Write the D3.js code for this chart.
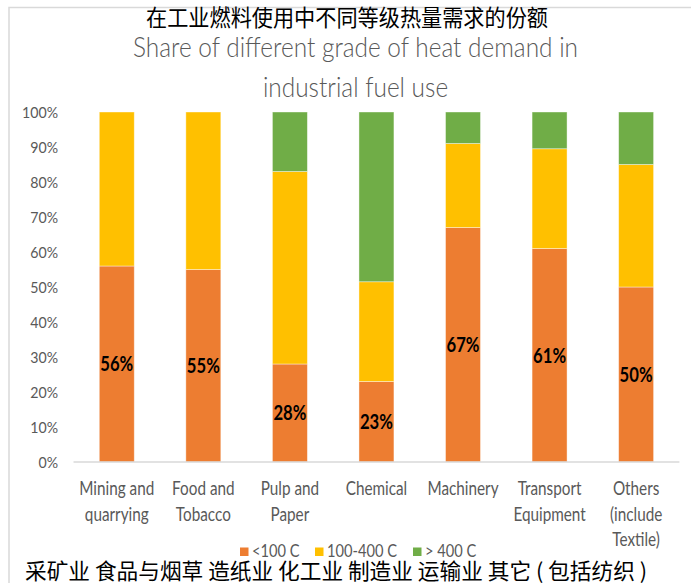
<!DOCTYPE html>
<html>
<head>
<meta charset="utf-8">
<script src="https://cdn.jsdelivr.net/npm/d3@7"></script>
<style>
  html, body { margin: 0; padding: 0; background: #fff; }
  svg { display: block; }
  .lat { font-family: Lato, "Open Sans", "DejaVu Sans", sans-serif; }
  .cjk { font-family: "Noto Sans CJK SC", sans-serif; }
</style>
</head>
<body>
<svg id="chart" width="691" height="583"></svg>
<script>
// Industry sectors (multi-line English labels)
const categories = [
  ["Mining and", "quarrying"],
  ["Food and", "Tobacco"],
  ["Pulp and", "Paper"],
  ["Chemical"],
  ["Machinery"],
  ["Transport", "Equipment"],
  ["Others", "(include", "Textile)"]
];
const seriesNames = ["<100 C", "100-400 C", "> 400 C"];
// Share of heat demand (%) per temperature grade
const below100 = [56, 55, 28, 23, 67, 61, 50];
const from100to400 = [44, 45, 55, 28.5, 24, 28.5, 35];
const above400 = [0, 0, 17, 48.5, 9, 10.5, 15];
const yTicks = [0, 10, 20, 30, 40, 50, 60, 70, 80, 90, 100];
const titleZh = "在工业燃料使用中不同等级热量需求的份额";
const titleEn = ["Share of different grade of heat demand in", "industrial fuel use"];
const footerZh = "采矿业 食品与烟草 造纸业 化工业 制造业 运输业 其它 ( 包括纺织 )";

const colors = ["#ED7D31", "#FFC000", "#70AD47"];
const textGray = "#595959";

const svg = d3.select("#chart");

// Narrow a group of texts so that one reference string spans `target` px.
function condense(sel, refText, target) {
  const nodes = sel.nodes();
  const ref = nodes.find(n => n.textContent === refText) || nodes[0];
  const k = target / ref.getComputedTextLength();
  nodes.forEach(n => {
    n.setAttribute("textLength", n.getComputedTextLength() * k);
    n.setAttribute("lengthAdjust", "spacingAndGlyphs");
  });
}

// outer frame (top and left edges)
svg.append("path")
  .attr("d", "M9,583V7.5H691")
  .attr("fill", "none").attr("stroke", "#d9d9d9").attr("stroke-width", 1.5);

const plot = { left: 73.5, right: 679.4, top: 112, bottom: 462 };

const x = d3.scaleBand()
  .domain(d3.range(categories.length))
  .range([plot.left, plot.right])
  .paddingInner(0.596)
  .paddingOuter(0.298);

const y = d3.scaleLinear().domain([0, 100]).range([plot.bottom, plot.top]);

// stacked layout
const rows = categories.map((c, i) => ({ i, a: below100[i], b: from100to400[i], c: above400[i] }));
const layers = d3.stack().keys(["a", "b", "c"])(rows);

svg.append("g").selectAll("g")
  .data(layers)
  .join("g")
  .attr("fill", (d, k) => colors[k])
  .selectAll("rect")
  .data(d => d.filter(s => s[1] - s[0] > 0))
  .join("rect")
  .attr("x", d => x(d.data.i))
  .attr("width", x.bandwidth())
  .attr("y", d => y(d[1]))
  .attr("height", d => y(d[0]) - y(d[1]))
  .attr("stroke", "#fff").attr("stroke-opacity", 0.5).attr("stroke-width", 0.8);

// baseline
svg.append("line")
  .attr("x1", plot.left).attr("x2", plot.right)
  .attr("y1", y(0)).attr("y2", y(0))
  .attr("stroke", "#d9d9d9").attr("stroke-width", 1.5);

// y axis labels
const yAxis = d3.axisLeft(y).tickValues(yTicks).tickFormat(d => d + "%").tickSize(0).tickPadding(0);
const gy = svg.append("g").attr("transform", "translate(58,0)").call(yAxis);
gy.select(".domain").remove();
gy.selectAll("text").attr("class", "lat").attr("font-size", 16).attr("fill", textGray).attr("font-family", null);
condense(gy.selectAll("text"), "100%", 36);

// category labels, one text per line
const gx = svg.append("g");
categories.forEach((lines, i) => {
  lines.forEach((ln, j) => {
    gx.append("text").attr("class", "lat")
      .attr("x", x(i) + x.bandwidth() / 2).attr("y", 495 + j * 25.5)
      .attr("text-anchor", "middle").attr("font-size", 18.5).attr("fill", textGray)
      .text(ln);
  });
});
condense(gx.selectAll("text"), "Mining and", 75);

// value labels on the <100 C segment
const vl = svg.append("g").selectAll("text")
  .data(rows)
  .join("text")
  .attr("class", "lat")
  .attr("x", d => x(d.i) + x.bandwidth() / 2)
  .attr("y", d => y(d.a / 2))
  .attr("dy", "0.36em")
  .attr("text-anchor", "middle")
  .attr("font-size", 20.5).attr("font-weight", "bold").attr("fill", "#000")
  .text(d => d.a + "%");
condense(vl, "56%", 33);

// English title
const te = svg.append("g").selectAll("text").data(titleEn).join("text")
  .attr("class", "lat")
  .attr("x", 355.5).attr("y", (d, j) => 57 + j * 40)
  .attr("text-anchor", "middle")
  .attr("font-size", 27).attr("font-weight", 300).attr("fill", textGray)
  .text(d => d);
condense(te, titleEn[0], 445);

// legend
const legendX = [240, 315, 413];
const lg = svg.append("g");
seriesNames.forEach((name, k) => {
  lg.append("rect").attr("x", legendX[k]).attr("y", 547.5).attr("width", 8.5).attr("height", 8.5).attr("fill", colors[k]);
  lg.append("text").attr("class", "lat").attr("x", legendX[k] + 12).attr("y", 557)
    .attr("font-size", 17).attr("fill", textGray).text(name);
});
condense(lg.selectAll("text"), "100-400 C", 70);

// Chinese captions
const tz = svg.append("text").attr("class", "cjk")
  .attr("x", 347).attr("y", 26).attr("text-anchor", "middle")
  .attr("font-size", 22.5).attr("fill", "#000").text(titleZh);
condense(tz, titleZh, 402);

const fz = svg.append("text").attr("class", "cjk")
  .attr("x", 25).attr("y", 578.5)
  .attr("font-size", 21.5).attr("fill", "#000").text(footerZh);
condense(fz, footerZh, 622);
</script>
</body>
</html>
